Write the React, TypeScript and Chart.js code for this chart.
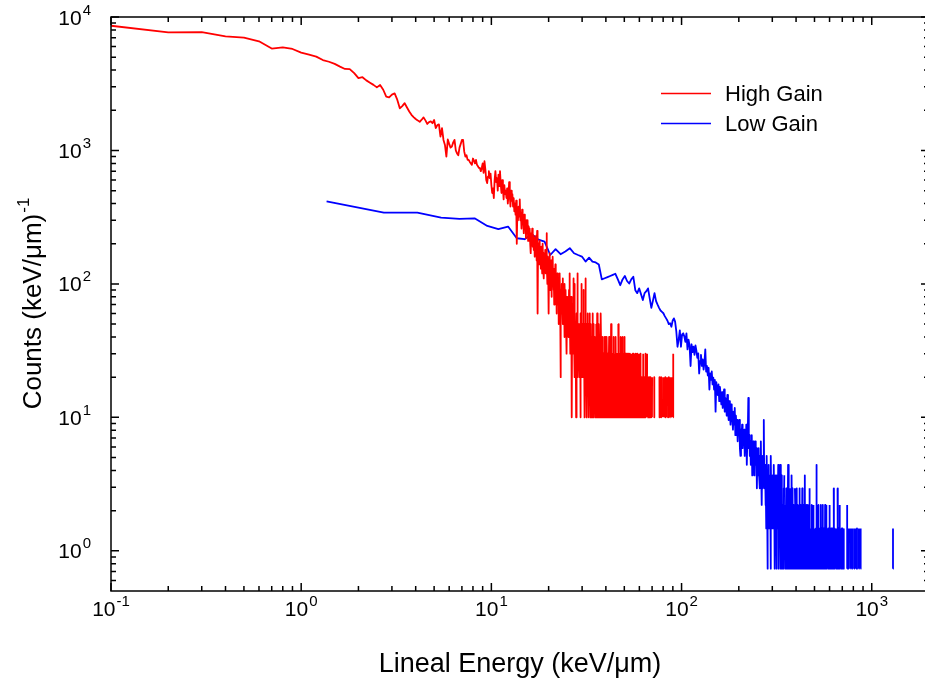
import React, { useEffect, useRef } from "react";
import { Chart, registerables } from "chart.js";

Chart.register(...registerables);

// Histogram bin widths (keV/μm)
const HIGH_GAIN_BIN = 0.1;
const LOW_GAIN_BIN = 1.36;

// High Gain counts per bin, bins 1..330
const highGainHead = [
  860, 768, 770, 717, 700, 658, 580, 593, 576, 541,
  522, 505, 476, 462, 445, 425, 408, 407, 380, 348,
  354, 335, 322, 310, 297, 309, 285, 253, 250, 262,
  268, 240, 207, 215, 226, 210, 196, 185, 178, 172,
  168, 164, 170, 177, 168, 158, 163, 165, 160, 169,
  147, 155, 157, 127, 147, 120, 110, 90, 121, 112,
  105, 107, 115, 120, 100, 95, 92, 105, 112, 120,
  120, 98, 90, 92, 85, 85, 82, 80, 78, 87,
  84, 80, 85, 78, 76, 74, 74, 70, 74, 80,
  68, 83, 72, 60, 57, 64, 70, 62, 67, 55,
  48, 52, 44, 60, 70, 58, 62, 50, 66, 54,
  70, 56, 48, 60, 52, 43, 55, 47, 50, 44,
  52, 40, 46, 58, 45, 38, 50, 42, 47, 38,
  44, 35, 40, 33, 42, 20, 36, 30, 38, 32,
  43, 30, 34, 26, 36, 28, 31, 24, 33, 27,
  29, 22, 30, 25, 30, 21, 27, 23, 26, 20,
  17, 24, 21, 26, 19, 23, 18, 22, 16, 21,
  19, 23, 15, 25, 6, 20, 17, 14, 21, 16,
  18, 13, 19, 15, 12, 20, 14, 17, 11, 16,
  13, 18, 12, 15, 24, 14, 10, 16, 12, 6,
  14, 11, 17, 9, 13, 15, 8, 12, 10, 16,
  11, 9, 13, 7, 12, 10, 14, 8, 11, 6,
  10, 12, 7, 9, 11, 5, 10, 8, 12, 7,
  2, 9, 6, 10, 8, 7, 11, 5, 9, 6,
  8, 4, 10, 7, 6, 9, 5, 8, 3, 7,
  6, 8, 5, 7, 4, 9, 6, 12, 7, 3,
  6, 4, 8, 5, 1, 7, 4, 6, 3, 11,
  7, 4, 10, 2, 6, 3, 5, 4, 1, 6,
  4, 5, 3, 12, 2, 4, 5, 3, 4, 2,
  5, 3, 4, 1, 6, 3, 10, 2, 5, 3,
  4, 2, 5, 3, 9, 2, 4, 3, 1, 5,
  3, 7, 11, 4, 2, 5, 3, 1, 4, 6,
  2, 3, 5, 2, 4, 1, 3, 6, 2, 4,
];

// High Gain counts per bin, bins 331..905 (one digit per bin)
const highGainTail =
  "3215241326" + "1425312432" + "2314052316" + "3123421532" + "1243126314" +
  "2312431221" + "3142132413" +
  "2131420312" + "1321241302" + "3122152131" + "2103212431" + "1231302142" +
  "2412131023" + "1320514213" + "2131024121" + "1213204132" + "3121031224" +
  "2120312102" + "1312021312" + "0212131021" + "2102312130" + "1213021201" +
  "2031201312" + "1201213021" + "0213102120" + "2101320112" + "1202103121" +
  "1021201310" + "2101202101" + "1202102130" + "0120210112" + "1020131020" +
  "2011020130" + "1203010212" + "0210120102" + "1020210301" + "0120102012" +
  "0102010200" + "1020010210" + "0010201020" + "0100200102" + "0010020100" +
  "1020001020" + "0100210010" + "0020100002" + "1000201001" + "0200100120" +
  "0010000120" + "0100001000" + "2100000100" + "0010001200" + "0000100010" +
  "1000021000" + "0010000100" + "0001200000" + "1000010002" + "1000100010" +
  "00130";

// Low Gain counts per bin, bins 1..200
const lowGainHead = [
  566, 465, 465, 427, 418, 422, 370, 350, 366, 299,
  294, 321, 292, 282, 224, 248, 227, 238, 252, 231,
  224, 218, 200, 214, 200, 197, 190, 147, 150, 153,
  156, 159, 162, 147, 133, 147, 156, 143, 137, 147,
  154, 122, 116, 126, 114, 103, 116, 120, 126, 106,
  90, 102, 116, 101, 95, 90, 86, 84, 82, 78,
  75, 72, 68, 69, 65, 72, 75, 71, 60, 46,
  52, 61, 46, 57, 58, 55, 50, 58, 44, 52,
  47, 33, 48, 42, 46, 40, 47, 43, 38, 41,
  29, 36, 40, 33, 37, 31, 35, 44, 30, 33,
  28, 32, 22, 29, 26, 30, 24, 27, 22, 26,
  15, 25, 22, 20, 24, 18, 23, 20, 17, 21,
  16, 19, 22, 15, 19, 17, 14, 20, 16, 13,
  18, 15, 12, 17, 16, 13, 11, 15, 12, 16,
  10, 14, 11, 13, 9, 12, 10, 13, 8, 7,
  11, 9, 12, 8, 10, 9, 11, 7, 10, 8,
  12, 6, 9, 11, 19, 8, 10, 7, 9, 6,
  8, 10, 5, 7, 9, 6, 8, 5, 9, 7,
  6, 8, 4, 7, 5, 6, 8, 5, 7, 4,
  6, 9, 5, 3, 6, 7, 4, 6, 13, 5,
];

// Low Gain counts per bin, bins 201..951 (one digit per bin)
const lowGainTail =
  "4635274153" + "6243517342" + "5324631425" + "3152436214" + "2461352413" +
  "3142503212" + "4231326142" + "2314021352" + "1423131204" + "3120423113" +
  "2130241213" + "1202314120" + "3121025112" + "0213120312" + "2103121402" +
  "1202131021" + "2130212011" + "2012162101" + "1203121021" + "0212013120" +
  "1210231020" + "2101201312" + "1021302101" + "2012101202" + "1301201021" +
  "0121021012" + "1204101210" + "2010120102" + "1201042101" + "0210120130" +
  "1020120101" + "2100210120" + "1012010201" + "0201102010" + "1020130102" +
  "0120101020" + "1010210012" + "0102010201" + "1200102010" + "0101201002" +
  "1020100120" + "0102101010" + "2010040120" + "1001020100" + "0120010201" +
  "0000000001" + "0000000000" + "0100000000" + "0000000000" + "0000000010" +
  "0000000000" + "0000000000" + "0000000000" + "0000000000" + "0000000000" +
  "0000000000" + "0000000100" + "0000000000" + "0000000000" + "0000000000" +
  "0000000000" + "0000000000" + "0000000000" + "0000000000" + "0000000000" +
  "0010000000" + "0000000000" + "0000000000" + "0000000000" + "0000000000" +
  "0000000000" + "0000000000" + "0000000000" + "0000000000" + "00000000012";

const seriesLabels = ["High Gain", "Low Gain"];
const seriesColors = ["#ff0000", "#0000ff"];

// Axis decades (exponents of ten) and ranges
const xDecades = [-1, 0, 1, 2, 3];
const yDecades = [0, 1, 2, 3, 4];
const X_MIN = 0.1;
const X_MAX = 2000;
const Y_MIN = 0.5;
const Y_MAX = 10000;

const xTitle = "Lineal Energy (keV/\u03bcm)";
const yTitle = "Counts (keV/\u03bcm)";
const yTitleExp = "-1";

const FONT = '"Liberation Sans", Arial, Helvetica, sans-serif';

function toSeries(head: number[], tail: string, bin: number) {
  const counts = head.concat(tail.split("").map(Number));
  return counts.map((n, i) => ({
    x: (i + 1) * bin,
    y: n > 0 ? n / bin : null,
  }));
}

function drawPower(
  ctx: CanvasRenderingContext2D,
  x: number,
  y: number,
  exp: string,
  align: "center" | "right"
) {
  const base = 21;
  const sup = 15;
  ctx.font = `${base}px ${FONT}`;
  const wBase = ctx.measureText("10").width;
  ctx.font = `${sup}px ${FONT}`;
  const wSup = ctx.measureText(exp).width;
  const total = wBase + wSup + 1;
  const x0 = align === "center" ? x - total / 2 : x - total;
  ctx.textAlign = "left";
  ctx.textBaseline = "alphabetic";
  ctx.font = `${base}px ${FONT}`;
  ctx.fillText("10", x0, y);
  ctx.font = `${sup}px ${FONT}`;
  ctx.fillText(exp, x0 + wBase + 1, y - 10);
}

const axesPlugin = {
  id: "originAxes",
  afterDraw(chart: any) {
    const ctx: CanvasRenderingContext2D = chart.ctx;
    const { left, right, top, bottom } = chart.chartArea;
    const xs = chart.scales.x;
    const ys = chart.scales.y;
    ctx.save();
    ctx.strokeStyle = "#000";
    ctx.fillStyle = "#000";
    ctx.lineWidth = 1.5;

    // frame
    ctx.strokeRect(left, top, right - left, bottom - top);

    const MAJOR = 8;
    const MINOR = 5;
    ctx.beginPath();
    for (let d = -2; d <= 4; d++) {
      for (let m = 1; m <= 9; m++) {
        const v = m * Math.pow(10, d);
        const len = m === 1 ? MAJOR : MINOR;
        if (v > X_MIN * 0.999 && v < X_MAX) {
          const px = xs.getPixelForValue(v);
          ctx.moveTo(px, bottom);
          ctx.lineTo(px, bottom - len);
          ctx.moveTo(px, top);
          ctx.lineTo(px, top + len);
        }
        if (v > Y_MIN && v <= Y_MAX * 1.001) {
          const py = ys.getPixelForValue(v);
          ctx.moveTo(left, py);
          ctx.lineTo(left + len, py);
          ctx.moveTo(right, py);
          ctx.lineTo(right - len, py);
        }
      }
    }
    ctx.stroke();

    // tick labels
    xDecades.forEach((e) => {
      drawPower(ctx, xs.getPixelForValue(Math.pow(10, e)), bottom + 25, String(e), "center");
    });
    yDecades.forEach((e) => {
      drawPower(ctx, left - 20, ys.getPixelForValue(Math.pow(10, e)) + 7.5, String(e), "right");
    });

    // axis titles
    ctx.font = `27px ${FONT}`;
    ctx.textAlign = "center";
    ctx.textBaseline = "alphabetic";
    ctx.fillText(xTitle, (left + right) / 2, bottom + 81);

    ctx.save();
    ctx.translate(41, (top + bottom) / 2);
    ctx.rotate(-Math.PI / 2);
    ctx.font = `26px ${FONT}`;
    const wMain = ctx.measureText(yTitle).width;
    ctx.font = `17px ${FONT}`;
    const wExp = ctx.measureText(yTitleExp).width;
    const start = -(wMain + wExp) / 2;
    ctx.textAlign = "left";
    ctx.font = `26px ${FONT}`;
    ctx.fillText(yTitle, start, 0);
    ctx.font = `17px ${FONT}`;
    ctx.fillText(yTitleExp, start + wMain + 1, -12);
    ctx.restore();

    // legend
    ctx.font = `22px ${FONT}`;
    ctx.textAlign = "left";
    ctx.textBaseline = "middle";
    chart.data.datasets.forEach((ds: any, i: number) => {
      const ly = 93.5 + i * 30;
      ctx.strokeStyle = ds.borderColor;
      ctx.lineWidth = 1.5;
      ctx.beginPath();
      ctx.moveTo(661, ly);
      ctx.lineTo(711, ly);
      ctx.stroke();
      ctx.fillStyle = "#000";
      ctx.fillText(ds.label, 725, ly + 1);
    });
    ctx.restore();
  },
};

export default function App() {
  const canvasRef = useRef<HTMLCanvasElement | null>(null);

  useEffect(() => {
    const canvas = canvasRef.current;
    if (!canvas) return;
    const chart = new Chart(canvas, {
      type: "line",
      data: {
        datasets: [
          {
            label: seriesLabels[0],
            data: toSeries(highGainHead, highGainTail, HIGH_GAIN_BIN) as any,
            borderColor: seriesColors[0],
            borderWidth: 1.8,
            borderJoinStyle: "round",
            pointRadius: 0,
            fill: false,
            tension: 0,
            spanGaps: false,
          },
          {
            label: seriesLabels[1],
            data: toSeries(lowGainHead, lowGainTail, LOW_GAIN_BIN) as any,
            borderColor: seriesColors[1],
            borderWidth: 1.8,
            borderJoinStyle: "round",
            pointRadius: 0,
            fill: false,
            tension: 0,
            spanGaps: false,
          },
        ],
      },
      options: {
        animation: false,
        responsive: false,
        events: [],
        layout: { padding: { left: 111, top: 17, right: 6, bottom: 95 } },
        scales: {
          x: { type: "logarithmic", min: X_MIN, max: X_MAX, display: false },
          y: { type: "logarithmic", min: Y_MIN, max: Y_MAX, display: false },
        },
        plugins: { legend: { display: false }, tooltip: { enabled: false } },
      },
      plugins: [axesPlugin],
    });
    return () => chart.destroy();
  }, []);

  return (
    <div
      style={{
        position: "fixed",
        left: 0,
        top: 0,
        width: 925,
        height: 686,
        overflow: "hidden",
        background: "#fff",
      }}
    >
      <canvas ref={canvasRef} width={935} height={686} style={{ width: 935, height: 686 }} />
    </div>
  );
}
